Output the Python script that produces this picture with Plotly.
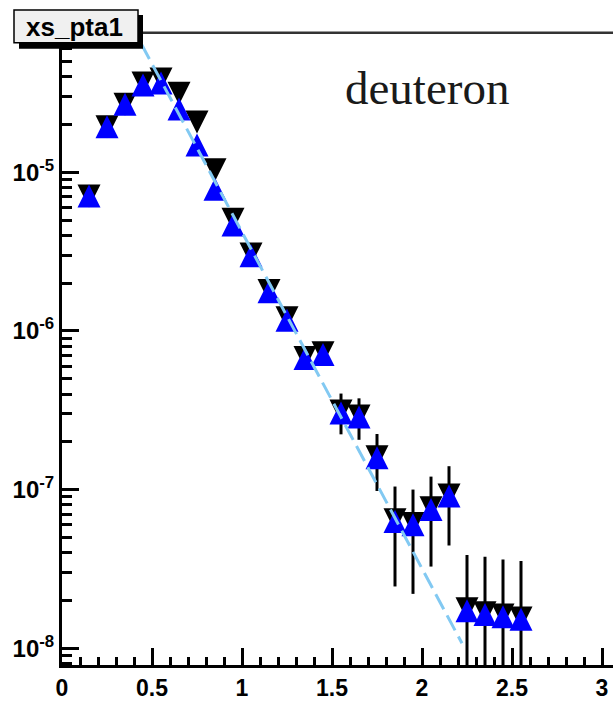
import numpy as np
import plotly.graph_objects as go

# pT bin centres (GeV/c)
pt = [0.15, 0.25, 0.35, 0.45, 0.55, 0.65, 0.75, 0.85, 0.95, 1.05,
      1.15, 1.25, 1.35, 1.45, 1.55, 1.65, 1.75, 1.85, 1.95, 2.05,
      2.15, 2.25, 2.35, 2.45, 2.55]

# invariant yield, first set (black, down triangles) with statistical errors
xs_black = [7.1e-6, 1.94e-5, 2.69e-5, 3.66e-5, 3.88e-5, 3.15e-5, 2.08e-5, 1.04e-5, 5.06e-6, 3.06e-6,
            1.80e-6, 1.21e-6, 6.8e-7, 7.3e-7, 3.13e-7, 2.91e-7, 1.61e-7, 6.45e-8, 6.1e-8, 7.67e-8,
            9.24e-8, 1.77e-8, 1.67e-8, 1.62e-8, 1.55e-8]
xs_black_err = [3e-7, 6e-7, 7e-7, 8e-7, 9e-7, 8e-7, 6e-7, 4e-7, 2.5e-7, 1.8e-7,
                1.3e-7, 1.0e-7, 7e-8, 8e-8, 9e-8, 8.5e-8, 6.3e-8, 4.0e-8, 3.9e-8, 4.4e-8,
                4.8e-8, 2.1e-8, 2.1e-8, 2.0e-8, 2.0e-8]

# invariant yield, second set (blue, up triangles)
xs_blue = [7.1e-6, 1.94e-5, 2.69e-5, 3.56e-5, 3.66e-5, 2.51e-5, 1.49e-5, 7.83e-6, 4.65e-6, 2.98e-6,
           1.77e-6, 1.17e-6, 6.7e-7, 7.1e-7, 3.04e-7, 2.87e-7, 1.59e-7, 6.3e-8, 6.0e-8, 7.5e-8,
           9.1e-8, 1.72e-8, 1.63e-8, 1.58e-8, 1.52e-8]

# exponential fit: A * exp(-b * pT) over the fit range
fit_norm = 5.55e-4
fit_slope = 4.884
fit_range = [0.378, 2.222]

x_tick_vals = [0, 0.5, 1, 1.5, 2, 2.5, 3]
x_tick_text = ["0", "0.5", "1", "1.5", "2", "2.5", "3"]
y_tick_vals = [1e-8, 1e-7, 1e-6, 1e-5]
y_tick_text = ["10<sup>-8</sup>", "10<sup>-7</sup>", "10<sup>-6</sup>", "10<sup>-5</sup>"]

W, H = 613, 701
ML, MR, MT, MB = 62, 0, 15, 29
PW, PH = W - ML - MR, H - MT - MB


def px(x):
    return (x - ML) / PW


def py(y):
    return (H - MB - y) / PH


MS = 23  # marker size (px)

fig = go.Figure()

fig.add_trace(go.Scatter(
    x=pt, y=xs_black, mode="markers",
    marker=dict(symbol="arrow-down", size=MS, color="black", angle=0,
                standoff=MS / 2, line=dict(width=0)),
    error_y=dict(type="data", array=xs_black_err, visible=True,
                 color="black", thickness=3, width=0),
    showlegend=False,
))

fig.add_trace(go.Scatter(
    x=pt, y=xs_blue, mode="markers",
    marker=dict(symbol="arrow-down", size=MS, color="#0000ff", angle=180,
                standoff=MS / 2, line=dict(width=0)),
    showlegend=False,
))

fit_x = np.linspace(fit_range[0], fit_range[1], 60)
fit_y = fit_norm * np.exp(-fit_slope * fit_x)
fig.add_trace(go.Scatter(
    x=fit_x, y=fit_y, mode="lines",
    line=dict(color="#82c9f2", width=3, dash="17px,7px"),
    showlegend=False,
))

tick_font_x = dict(family="Liberation Sans", size=23, color="black", weight="bold")
tick_font_y = dict(family="Liberation Sans", size=24, color="black", weight="bold")

fig.update_xaxes(
    range=[0, (W - ML - MR) / 180.0], showgrid=False, zeroline=False,
    showline=True, linecolor="black", linewidth=3,
    tickmode="array", tickvals=x_tick_vals, ticktext=x_tick_text,
    ticks="inside", ticklen=17, tickwidth=2.5, tickcolor="black",
    minor=dict(ticks="inside", ticklen=8, tickwidth=2.5, tickcolor="black",
               tick0=0, dtick=0.1, showgrid=False),
    tickfont=tick_font_x,
)
fig.update_yaxes(
    type="log", range=[-8.106, -4.008], showgrid=False, zeroline=False,
    showline=True, linecolor="black", linewidth=3,
    tickmode="array", tickvals=y_tick_vals, ticktext=y_tick_text,
    ticks="inside", ticklen=17, tickwidth=2.5, tickcolor="black",
    minor=dict(ticks="inside", ticklen=10, tickwidth=2.5, tickcolor="black",
               dtick="D1", showgrid=False),
    tickfont=tick_font_y,
)

shapes = [
    # top frame line
    dict(type="line", xref="paper", yref="paper", x0=0, x1=1, y0=py(33), y1=py(33),
         line=dict(color="#333333", width=2.5), layer="above"),
    # title box shadow
    dict(type="rect", xref="paper", yref="paper", x0=px(19), x1=px(143), y0=py(49), y1=py(15),
         fillcolor="black", line=dict(width=0), layer="above"),
    # title box
    dict(type="rect", xref="paper", yref="paper", x0=px(14), x1=px(138), y0=py(43), y1=py(10),
         fillcolor="#f0f0f0", line=dict(color="black", width=1.5), layer="above"),
]

annotations = [
    dict(text="xs_pta1", xref="paper", yref="paper", x=px(74), y=py(27),
         xanchor="center", yanchor="middle", showarrow=False,
         font=dict(family="Liberation Sans", size=26, color="black", weight="bold")),
    dict(text="deuteron", xref="paper", yref="paper", x=px(427), y=py(89),
         xanchor="center", yanchor="middle", showarrow=False,
         font=dict(family="Liberation Serif", size=47, color="#1a1a1a")),
]

fig.update_layout(
    width=W, height=H,
    margin=dict(l=ML, r=MR, t=MT, b=MB, pad=0),
    paper_bgcolor="white", plot_bgcolor="white",
    shapes=shapes, annotations=annotations,
    showlegend=False,
)

fig.write_html("out.html")
